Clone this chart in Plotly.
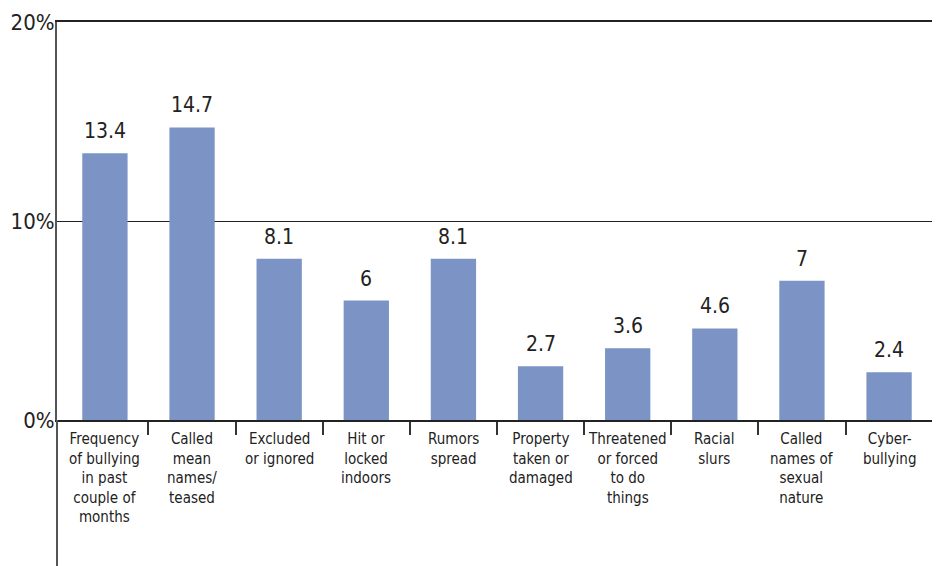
import plotly.graph_objects as go

categories = [
    "Frequency<br>of bullying<br>in past<br>couple of<br>months",
    "Called<br>mean<br>names/<br>teased",
    "Excluded<br>or ignored",
    "Hit or<br>locked<br>indoors",
    "Rumors<br>spread",
    "Property<br>taken or<br>damaged",
    "Threatened<br>or forced<br>to do<br>things",
    "Racial<br>slurs",
    "Called<br>names of<br>sexual<br>nature",
    "Cyber-<br>bullying",
]
values = [13.4, 14.7, 8.1, 6, 8.1, 2.7, 3.6, 4.6, 7, 2.4]
value_labels = ["13.4", "14.7", "8.1", "6", "8.1", "2.7", "3.6", "4.6", "7", "2.4"]
y_ticks = [0, 10, 20]
y_tick_labels = ["0%", "10%", "20%"]

FONT = "DejaVu Sans Condensed, Liberation Sans Narrow, sans-serif"
BAR = "#7b94c5"

xpos = list(range(len(categories)))

fig = go.Figure()
fig.add_trace(go.Bar(x=xpos, y=values, width=0.52, marker=dict(color=BAR, line=dict(width=0)),
                     hoverinfo="skip"))

annotations = []
for i, (v, lab) in enumerate(zip(values, value_labels)):
    annotations.append(dict(x=i, y=v, xref="x", yref="y", text=lab, showarrow=False,
                            yanchor="bottom", yshift=8,
                            font=dict(family=FONT, size=21, color="#222")))
for i, cat in enumerate(categories):
    annotations.append(dict(x=i, y=0, xref="x", yref="paper", text=cat, showarrow=False,
                            yanchor="top", yshift=-8, align="center",
                            font=dict(family=FONT, size=15, color="#222")))

bottom_ext = -146 / 398
shapes = [
    dict(type="line", xref="paper", yref="paper", x0=0, x1=0, y0=0, y1=bottom_ext,
         line=dict(color="#555", width=2)),
    dict(type="line", xref="paper", yref="paper", x0=1, x1=1, y0=0, y1=bottom_ext,
         line=dict(color="#222", width=1.5)),
]

fig.update_layout(
    width=932, height=558,
    margin=dict(l=49, r=3, t=14, b=146, autoexpand=False),
    paper_bgcolor="white", plot_bgcolor="white",
    showlegend=False,
    annotations=annotations,
    shapes=shapes,
    xaxis=dict(range=[-0.55, 9.55], tickvals=[i + 0.5 for i in range(len(categories) - 1)],
               showticklabels=False, ticks="outside", ticklen=13, tickwidth=1.5, tickcolor="#333",
               showline=True, linecolor="#222", linewidth=1.5, mirror=True,
               showgrid=False, zeroline=False, fixedrange=True, automargin=False),
    yaxis=dict(range=[0, 20], tickvals=y_ticks, ticktext=y_tick_labels,
               showline=True, linecolor="#555", linewidth=2, mirror=True,
               showgrid=True, gridcolor="#222", gridwidth=1, zeroline=False,
               ticks="", ticklabelstandoff=-4, automargin=False,
               tickfont=dict(family=FONT, size=22, color="#222"), fixedrange=True),
)

fig.write_html("out.html")
